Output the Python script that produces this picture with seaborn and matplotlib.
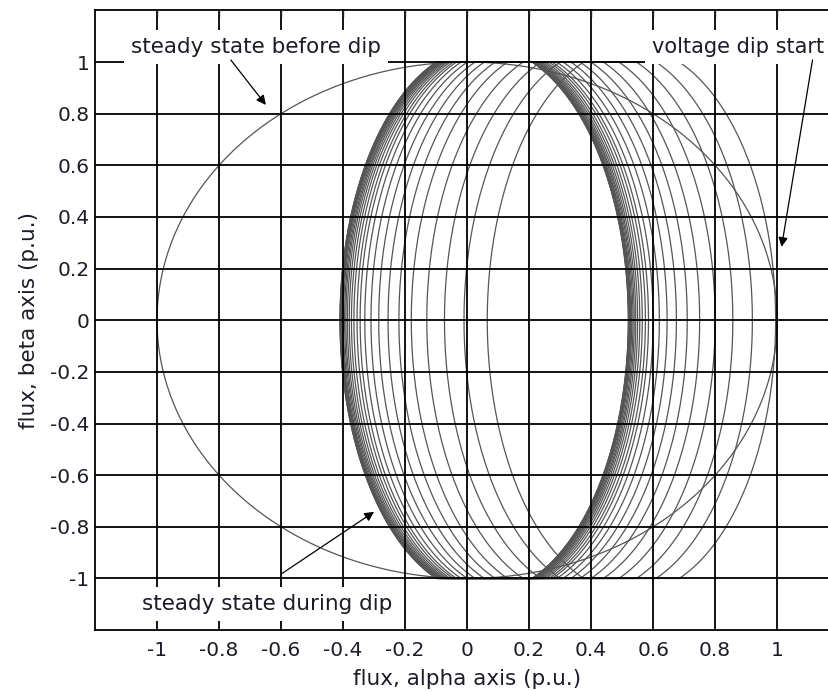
import numpy as np
import pandas as pd
import matplotlib
matplotlib.use("Agg")
from matplotlib import pyplot as plt
import seaborn as sns

# ---- values ----
ticks = [-1, -0.8, -0.6, -0.4, -0.2, 0, 0.2, 0.4, 0.6, 0.8, 1]
tick_labels = ['-1', '-0.8', '-0.6', '-0.4', '-0.2', '0', '0.2', '0.4', '0.6', '0.8', '1']

pre_dip_radius = 1.0            # steady state circle before the dip
dip_alpha_amp = 0.465           # alpha semi-axis of the flux ellipse during the dip
dip_beta_amp = 1.06             # beta amplitude (curve flattens at the limit)
beta_limit = 1.0

# alpha centre of each cycle after the dip starts (decaying natural flux)
cycle_centres = [0.53, 0.455, 0.392, 0.335, 0.285, 0.245, 0.21, 0.18, 0.155, 0.135,
                 0.12, 0.11, 0.10, 0.092, 0.085, 0.079, 0.074, 0.07, 0.066, 0.063,
                 0.061, 0.059, 0.058, 0.057, 0.056, 0.0555, 0.055]

label_before = 'steady state before dip'
label_start = 'voltage dip start'
label_during = 'steady state during dip'

#####-----#####

theta = np.linspace(0, 2 * np.pi, 600)

frames = [pd.DataFrame({'alpha': pre_dip_radius * np.cos(theta),
                        'beta': pre_dip_radius * np.sin(theta),
                        'cycle': 0})]
for i, c in enumerate(cycle_centres):
    frames.append(pd.DataFrame({'alpha': c + dip_alpha_amp * np.cos(theta),
                                'beta': np.clip(dip_beta_amp * np.sin(theta), -beta_limit, beta_limit),
                                'cycle': i + 1}))
flux = pd.concat(frames, ignore_index=True)

sns.set_style('white')
plt.rcParams['font.family'] = ['DejaVu Sans']
plt.rcParams['axes.unicode_minus'] = False

fig = plt.figure(figsize=(8.29, 6.91), dpi=100)
ax = fig.add_axes([95 / 829, (691 - 630.1) / 691, (839.2 - 95) / 829, (630.1 - 10.4) / 691])

sns.lineplot(data=flux, x='alpha', y='beta', units='cycle', estimator=None, sort=False,
             color='#555555', linewidth=0.9, ax=ax, legend=False)

ax.set_xlim(-1.2, 1.2)
ax.set_ylim(-1.2, 1.2)
ax.set_xticks(ticks)
ax.set_xticklabels(tick_labels)
ax.set_yticks(ticks)
ax.set_yticklabels(tick_labels)
ax.tick_params(direction='in', length=5, width=1, top=True, right=True,
               labelsize=14.5, labelcolor='#1c1c28')
ax.tick_params(axis='x', pad=8)
ax.tick_params(axis='y', pad=4)

ax.set_axisbelow(False)
ax.grid(True, color='k', linewidth=1.3, linestyle='-')
for sp in ax.spines.values():
    sp.set_color('k')
    sp.set_linewidth(1.3)

ax.set_xlabel('flux, alpha axis (p.u.)', fontsize=15.5, color='#1c1c28', labelpad=6)
ax.set_ylabel('flux, beta axis (p.u.)', fontsize=15.5, color='#1c1c28', labelpad=8)

box = dict(facecolor='white', edgecolor='none', pad=5)
ax.text(-0.68, 1.058, label_before, ha='center', va='center', fontsize=15.5,
        color='#1c1c28', bbox=box, zorder=5)
ax.text(0.595, 1.058, label_start, ha='left', va='center', fontsize=15,
        color='#1c1c28', bbox=box, zorder=5)
ax.text(-0.645, -1.099, label_during, ha='center', va='center', fontsize=15.5,
        color='#1c1c28', bbox=box, zorder=5)

arrow = dict(arrowstyle='-|>', color='k', lw=0.9, mutation_scale=14, shrinkA=0, shrinkB=0)
ax.annotate('', xy=(-0.649, 0.834), xytext=(-0.762, 1.008), arrowprops=arrow, zorder=6)
ax.annotate('', xy=(1.014, 0.284), xytext=(1.114, 1.008), arrowprops=arrow, zorder=6)
ax.annotate('', xy=(-0.30, -0.742), xytext=(-0.596, -0.98), arrowprops=arrow, zorder=6)

plt.savefig('out.png', dpi=100)
